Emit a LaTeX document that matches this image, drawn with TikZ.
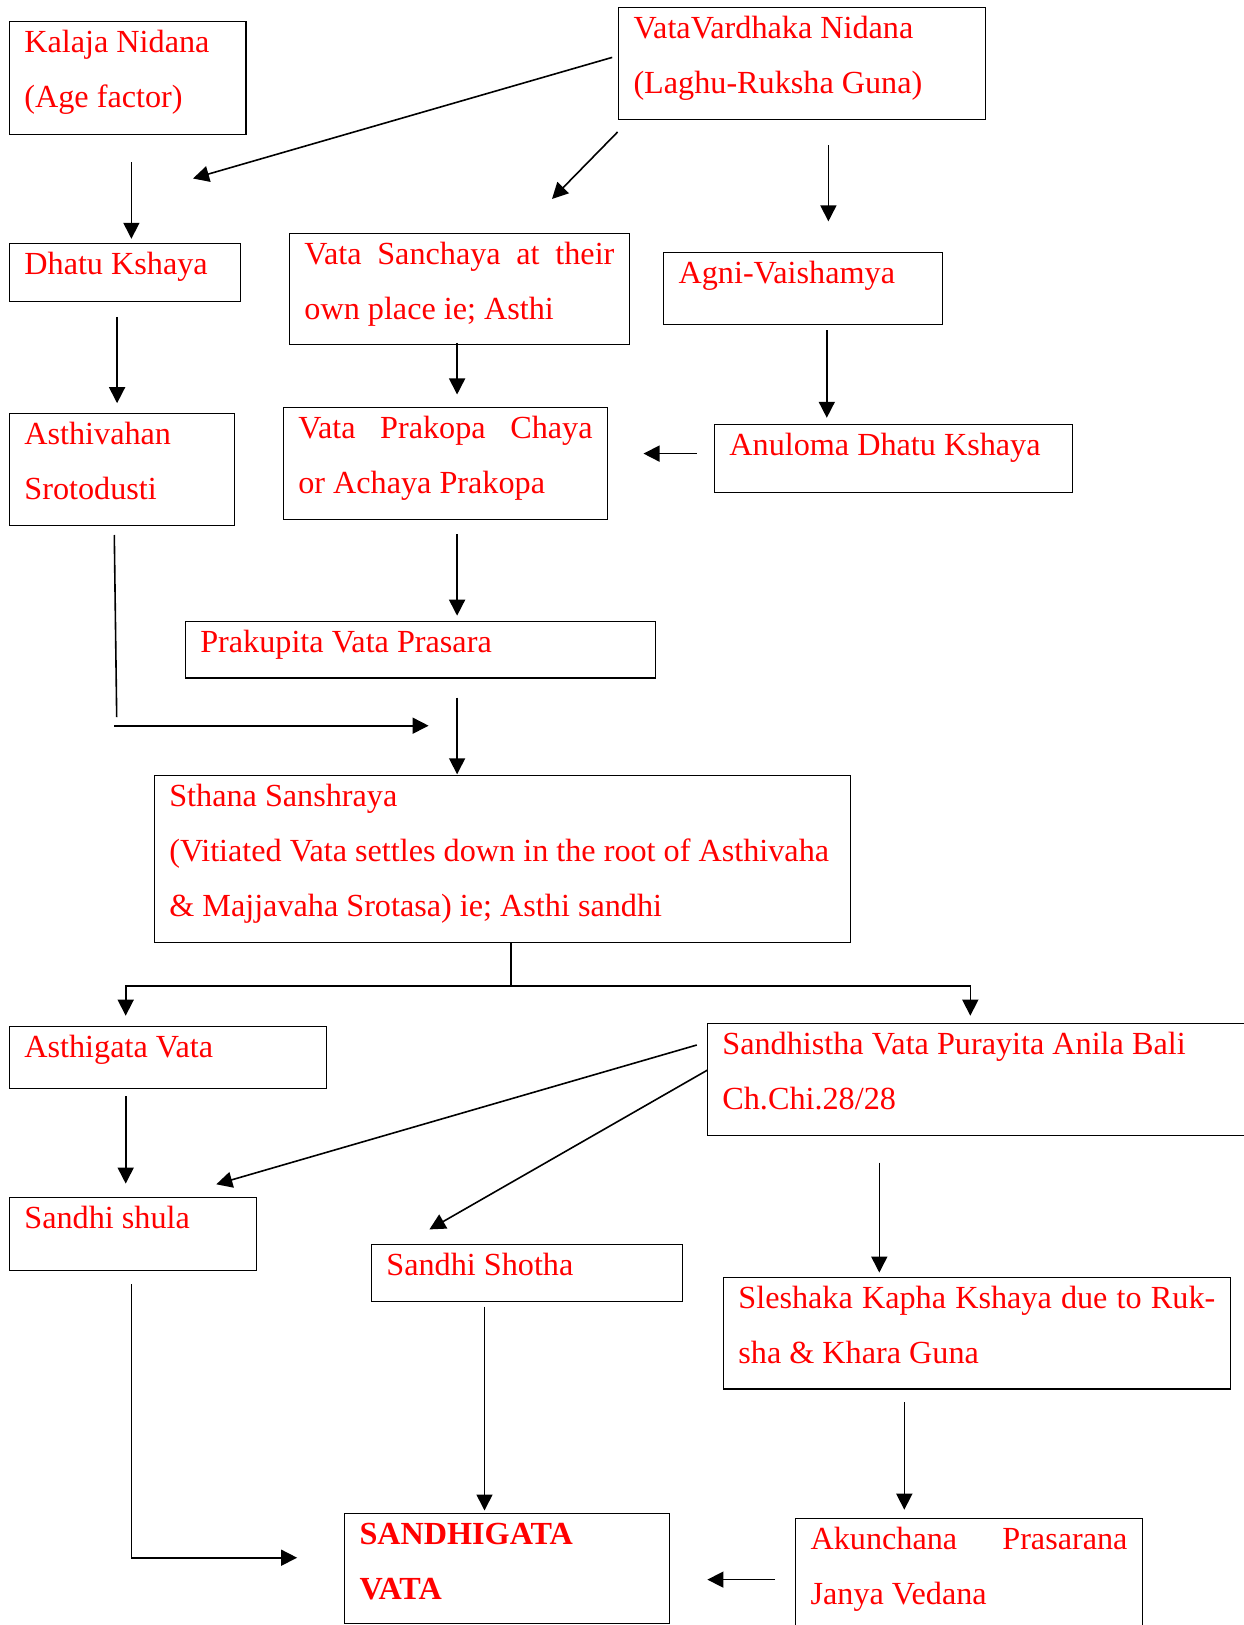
\documentclass[tikz,border=0pt]{standalone}
\usepackage{fontspec}
\setmainfont{Liberation Serif}
\usetikzlibrary{arrows.meta}
\newlength{\pxu}\setlength{\pxu}{0.5pt}
\newcommand{\cell}[3]{\parbox[t][#2\pxu][t]{\dimexpr #1\pxu-15pt\relax}{\rule{0pt}{15.5pt}#3}}
\newcommand{\jl}[1]{\makebox[\linewidth][s]{#1}}
\begin{document}
\begin{tikzpicture}
	\begin{scope}[x=0.5pt,y=-0.5pt,>={Triangle[length=8pt,width=8pt]},
		box/.style={rectangle,draw,line width=0.6pt,anchor=north west,inner xsep=7.5pt,inner ysep=0pt,outer sep=0pt,text=red,font=\fontsize{16.1}{27.5}\selectfont},
		arrow/.style={line width=0.8pt}]
		\useasboundingbox (0,0) rectangle (1243,1625);
		% boxes, row by row
		\node [box] (1A) at (9.4,21.9)    {\cell{236.6}{112.3}{Kalaja Nidana\\(Age factor)}};
		\node [box] (1B) at (618.5,7.3)   {\cell{367}{111.9}{VataVardhaka Nidana\\(Laghu-Ruksha Guna)}};
		\node [box] (2A) at (9.4,243.3)   {\cell{231}{58.1}{Dhatu Kshaya}};
		\node [box] (2B) at (289.4,233.6) {\cell{340}{110.9}{\jl{Vata Sanchaya at their}\\own place ie; Asthi}};
		\node [box] (2C) at (663.6,252.3) {\cell{279.2}{72}{Agni-Vaishamya}};
		\node [box] (3A) at (9.4,413.6)   {\cell{225.3}{111.7}{Asthivahan\\Srotodusti}};
		\node [box] (3B) at (283.3,407.7) {\cell{324.3}{111.6}{\jl{Vata Prakopa Chaya}\\or Achaya Prakopa}};
		\node [box] (3C) at (714.4,424.7) {\cell{358}{68.2}{Anuloma Dhatu Kshaya}};
		\node [box] (4)  at (185.3,621.8) {\cell{470.1}{56.1}{Prakupita Vata Prasara}};
		\node [box] (5)  at (154.3,775.7) {\cell{696.3}{166.4}{Sthana Sanshraya\\\mbox{(Vitiated Vata settles down in the root of Asthivaha}\\\& Majjavaha Srotasa) ie; Asthi sandhi}};
		\node [box] (6A) at (9.4,1026.4)  {\cell{317.1}{62.4}{Asthigata Vata}};
		\node [box] (6B) at (707.4,1023.6){\cell{560}{111.7}{Sandhistha Vata Purayita Anila Bali\\Ch.Chi.28/28}};
		\node [box] (7A) at (9.4,1197.3)  {\cell{246.9}{73.2}{Sandhi shula}};
		\node [box] (7B) at (371.4,1244.5){\cell{311}{56.9}{Sandhi Shotha}};
		\node [box] (7C) at (723.4,1277.7){\cell{506.9}{111.3}{\jl{Sleshaka Kapha Kshaya due to Ruk-}\\sha \& Khara Guna}};
		\node [box] (8A) at (344.5,1513.3){\cell{324.8}{110}{\textbf{SANDHIGATA}\\\textbf{VATA}}};
		\node [box] (8B) at (795.6,1518.7){\cell{346.9}{125}{\jl{Akunchana Prasarana}\\Janya Vedana}};
		% free ends of the connectors
		\coordinate (a1) at (612.2,57.4);   \coordinate (a2) at (193,178.5);
		\coordinate (b1) at (131.4,162.3);  \coordinate (b2) at (131.4,238.8);
		\coordinate (c1) at (617.6,132);    \coordinate (c2) at (552,199);
		\coordinate (d1) at (828.4,145.3);  \coordinate (d2) at (828.4,221.4);
		\coordinate (e1) at (117.1,317);    \coordinate (e2) at (117.1,403.2);
		\coordinate (f1) at (457.1,343);    \coordinate (f2) at (457.1,394.5);
		\coordinate (g1) at (826.8,330.2);  \coordinate (g2) at (826.8,417.8);
		\coordinate (h1) at (696.8,453.6);  \coordinate (h2) at (643.5,453.6);
		\coordinate (i1) at (114.3,535);    \coordinate (i2) at (116.7,717.1);
		\coordinate (i3) at (114.3,725.7);  \coordinate (i4) at (428.6,725.7);
		\coordinate (j1) at (457.1,534.3);  \coordinate (j2) at (457.1,615.7);
		\coordinate (k1) at (457.1,697.5);  \coordinate (k2) at (457.1,774.3);
		\coordinate (l1) at (511,942);      \coordinate (l2) at (511,986.1);
		\coordinate (l3) at (125.7,986.1);  \coordinate (l4) at (970.3,986.1);
		\coordinate (l5) at (125.7,1015.7); \coordinate (l6) at (970.3,1015.7);
		\coordinate (m1) at (696.8,1045);   \coordinate (m2) at (216.3,1184.3);
		\coordinate (n1) at (707.4,1070.1); \coordinate (n2) at (429.4,1229.4);
		\coordinate (o1) at (125.7,1096);   \coordinate (o2) at (125.7,1183.6);
		\coordinate (p1) at (879.3,1162.7); \coordinate (p2) at (879.3,1272.6);
		\coordinate (q1) at (131.4,1284.1); \coordinate (q2) at (131.4,1557.7);
		\coordinate (q3) at (297.1,1557.7);
		\coordinate (r1) at (484.5,1306.5); \coordinate (r2) at (484.5,1510.5);
		\coordinate (s1) at (904.3,1402.3); \coordinate (s2) at (904.3,1509.7);
		\coordinate (t1) at (775.1,1579.6); \coordinate (t2) at (707.4,1579.6);
		\path [arrow]
		(a1) edge [->] (a2)
		(b1) edge [->] (b2)
		(c1) edge [->] (c2)
		(d1) edge [->] (d2)
		(e1) edge [->] (e2)
		(f1) edge [->] (f2)
		(g1) edge [->] (g2)
		(h1) edge [->] (h2)
		(i1) edge (i2)
		(i3) edge [->] (i4)
		(j1) edge [->] (j2)
		(k1) edge [->] (k2)
		(l1) edge (l2)
		(m1) edge [->] (m2)
		(n1) edge [->] (n2)
		(o1) edge [->] (o2)
		(p1) edge [->] (p2)
		(r1) edge [->] (r2)
		(s1) edge [->] (s2)
		(t1) edge [->] (t2)
		;
		\draw [arrow,<->] (l5) -- (l3) -- (l4) -- (l6);
		\draw [arrow,->] (q1) -- (q2) -- (q3);
	\end{scope}
\end{tikzpicture}
\end{document}
